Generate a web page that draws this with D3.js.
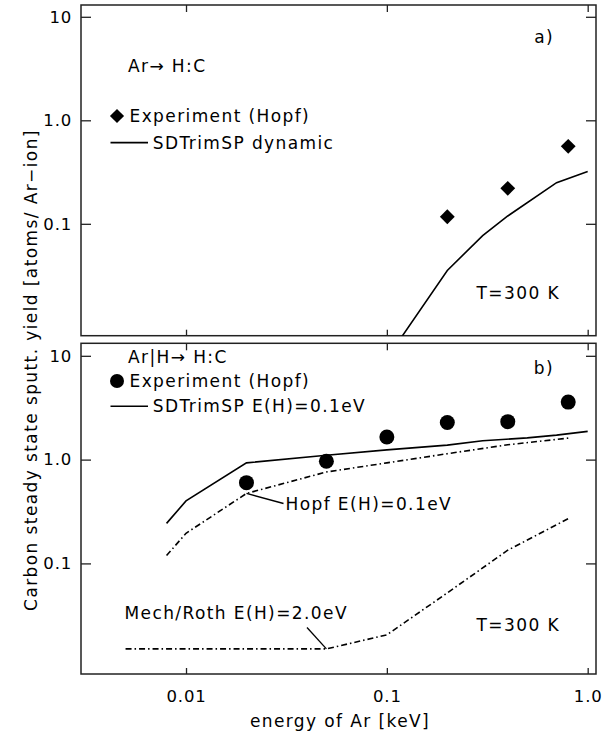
<!DOCTYPE html>
<html>
<head>
<meta charset="utf-8">
<script src="https://cdn.jsdelivr.net/npm/d3@7"></script>
<style>
  html, body { margin: 0; padding: 0; background: #fff; }
  svg text { font-family: "DejaVu Sans", sans-serif; fill: #000; }
</style>
</head>
<body>
<svg id="chart" width="604" height="740"></svg>
<script>
// ---------- data ----------
const xTickValues = [0.01, 0.1, 1];
const xTickLabels = ["0.01", "0.1", "1.0"];
const yTickValues = [0.1, 1, 10];
const yTickLabels = ["0.1", "1.0", "10"];

// panel a) Ar -> H:C
const expA_E = [0.2, 0.4, 0.8];
const expA_Y = [0.117, 0.22, 0.56];
const simA_E = [0.1, 0.2, 0.3, 0.4, 0.7, 1.0];
const simA_Y = [0.005, 0.0354, 0.077, 0.119, 0.25, 0.32];

// panel b) Ar|H -> H:C
const expB_E = [0.02, 0.05, 0.1, 0.2, 0.4, 0.8];
const expB_Y = [0.60, 0.965, 1.65, 2.28, 2.32, 3.58];
const simB_E = [0.008, 0.01, 0.02, 0.05, 0.1, 0.2, 0.3, 0.5, 0.7, 1.0];
const simB_Y = [0.243, 0.40, 0.93, 1.10, 1.24, 1.38, 1.52, 1.62, 1.72, 1.87];
const hopfB_E = [0.008, 0.01, 0.02, 0.05, 0.1, 0.2, 0.4, 0.8];
const hopfB_Y = [0.119, 0.195, 0.472, 0.76, 0.93, 1.14, 1.39, 1.61];
const mechB_E = [0.005, 0.05, 0.1, 0.2, 0.4, 0.8];
const mechB_Y = [0.015, 0.015, 0.0205, 0.052, 0.134, 0.27];

const zip = (a, b) => a.map((v, i) => [v, b[i]]);

// ---------- layout ----------
const svg = d3.select("#chart");
const L = 81, R = 596;
const x = d3.scaleLog().domain([0.003, 1.1]).range([L, R]);
const panels = [
  { y: d3.scaleLog().domain([0.0083, 13]).range([335.7, 5]), top: 5, bottom: 335.7 },
  { y: d3.scaleLog().domain([0.0086, 13.2]).range([674, 343.3]), top: 343.3, bottom: 674 }
];
const fmtX = v => xTickLabels[xTickValues.indexOf(v)];
const fmtY = v => yTickLabels[yTickValues.indexOf(v)];
const axisColor = "#222";

function drawFrame(p, showX) {
  const g = svg.append("g");
  const styleAxis = sel => {
    sel.select(".domain").remove();
    sel.selectAll(".tick line").attr("stroke", axisColor).attr("stroke-width", 1.3);
    sel.selectAll(".tick text").style("font-size", "16.5px").style("letter-spacing", "0.8px").attr("fill", "#000");
  };
  g.append("g").attr("transform", `translate(${L},0)`)
    .call(d3.axisLeft(p.y).tickValues(yTickValues).tickFormat(fmtY).tickSizeInner(-10).tickSizeOuter(0).tickPadding(9))
    .call(styleAxis);
  g.append("g").attr("transform", `translate(${R},0)`)
    .call(d3.axisRight(p.y).tickValues(yTickValues).tickFormat("").tickSizeInner(-10).tickSizeOuter(0))
    .call(styleAxis);
  g.append("g").attr("transform", `translate(0,${p.top})`)
    .call(d3.axisTop(x).tickValues(xTickValues).tickFormat("").tickSizeInner(-7).tickSizeOuter(0))
    .call(styleAxis);
  g.append("g").attr("transform", `translate(0,${p.bottom})`)
    .call(d3.axisBottom(x).tickValues(xTickValues).tickFormat(showX ? fmtX : "").tickSizeInner(-6).tickSizeOuter(0).tickPadding(16.5))
    .call(styleAxis);
  g.append("rect").attr("x", L).attr("y", p.top).attr("width", R - L).attr("height", p.bottom - p.top)
    .attr("fill", "none").attr("stroke", axisColor).attr("stroke-width", 1.5);
}

function clipFor(p, id) {
  svg.append("clipPath").attr("id", id).append("rect")
    .attr("x", L).attr("y", p.top).attr("width", R - L).attr("height", p.bottom - p.top);
  return `url(#${id})`;
}

function drawLine(p, data, clip, dash) {
  const line = d3.line().x(d => x(d[0])).y(d => p.y(d[1]));
  svg.append("path").datum(data).attr("d", line).attr("fill", "none")
    .attr("stroke", "#000").attr("stroke-width", 1.6)
    .attr("stroke-dasharray", dash || null).attr("clip-path", clip);
}

const dashDot = "6,3,1.5,3";
const textStyle = sel => sel.style("font-size", "17px").style("letter-spacing", "1.4px");

// ---------- panel a ----------
{
  const p = panels[0];
  drawFrame(p, false);
  const clip = clipFor(p, "clipA");
  drawLine(p, zip(simA_E, simA_Y), clip);
  svg.append("g").selectAll("path").data(zip(expA_E, expA_Y)).join("path")
    .attr("d", d3.symbol(d3.symbolSquare, 110)())
    .attr("transform", d => `translate(${x(d[0])},${p.y(d[1])}) rotate(45)`)
    .attr("fill", "#000");
  // legend
  svg.append("path").attr("d", d3.symbol(d3.symbolSquare, 100)())
    .attr("transform", "translate(117,116) rotate(45)").attr("fill", "#000");
  svg.append("text").attr("x", 129.5).attr("y", 116).attr("dy", "0.36em").text("Experiment (Hopf)").call(textStyle);
  svg.append("line").attr("x1", 110.5).attr("x2", 148).attr("y1", 142.6).attr("y2", 142.6).attr("stroke", "#000").attr("stroke-width", 1.6);
  svg.append("text").attr("x", 152.8).attr("y", 142.6).attr("dy", "0.36em").text("SDTrimSP dynamic").call(textStyle);
  svg.append("text").attr("x", 128).attr("y", 66).attr("dy", "0.36em").text("Ar→ H:C").call(textStyle);
  svg.append("text").attr("x", 554).attr("y", 37).attr("dy", "0.36em").attr("text-anchor", "end").text("a)").call(textStyle);
  svg.append("text").attr("x", 560).attr("y", 293).attr("dy", "0.36em").attr("text-anchor", "end").text("T=300 K").call(textStyle);
}

// ---------- panel b ----------
{
  const p = panels[1];
  drawFrame(p, true);
  const clip = clipFor(p, "clipB");
  drawLine(p, zip(simB_E, simB_Y), clip);
  drawLine(p, zip(hopfB_E, hopfB_Y), clip, dashDot);
  drawLine(p, zip(mechB_E, mechB_Y), clip, dashDot);
  svg.append("g").selectAll("circle").data(zip(expB_E, expB_Y)).join("circle")
    .attr("cx", d => x(d[0])).attr("cy", d => p.y(d[1])).attr("r", 7.5).attr("fill", "#000");
  // legend
  svg.append("text").attr("x", 128).attr("y", 356.5).attr("dy", "0.36em").text("Ar|H→ H:C").call(textStyle);
  svg.append("circle").attr("cx", 117).attr("cy", 381).attr("r", 7).attr("fill", "#000");
  svg.append("text").attr("x", 129.5).attr("y", 381).attr("dy", "0.36em").text("Experiment (Hopf)").call(textStyle);
  svg.append("line").attr("x1", 110.5).attr("x2", 148).attr("y1", 406.3).attr("y2", 406.3).attr("stroke", "#000").attr("stroke-width", 1.6);
  svg.append("text").attr("x", 152.8).attr("y", 406.3).attr("dy", "0.36em").text("SDTrimSP E(H)=0.1eV").call(textStyle);
  svg.append("text").attr("x", 554).attr("y", 368).attr("dy", "0.36em").attr("text-anchor", "end").text("b)").call(textStyle);
  svg.append("text").attr("x", 560).attr("y", 625).attr("dy", "0.36em").attr("text-anchor", "end").text("T=300 K").call(textStyle);
  // annotations
  const hx = x(hopfB_E[2]), hy = p.y(hopfB_Y[2]);
  svg.append("line").attr("x1", hx).attr("y1", hy).attr("x2", 283.5).attr("y2", 503.5).attr("stroke", "#000").attr("stroke-width", 1.3);
  svg.append("text").attr("x", 285.5).attr("y", 504).attr("dy", "0.36em").text("Hopf E(H)=0.1eV").call(textStyle);
  const mx = x(mechB_E[1]), my = p.y(mechB_Y[1]);
  svg.append("line").attr("x1", mx).attr("y1", my).attr("x2", 307).attr("y2", 627.5).attr("stroke", "#000").attr("stroke-width", 1.3);
  svg.append("text").attr("x", 124.5).attr("y", 612.5).attr("dy", "0.36em").text("Mech/Roth E(H)=2.0eV").call(textStyle);
}

// ---------- axis titles ----------
svg.append("text").attr("transform", "translate(31,370) rotate(-90)").attr("text-anchor", "middle").attr("dy", "0.36em")
  .text("Carbon steady state sputt. yield [atoms/ Ar−ion]").call(textStyle);
svg.append("text").attr("x", 340).attr("y", 721).attr("text-anchor", "middle").attr("dy", "0.36em")
  .text("energy of Ar [keV]").call(textStyle);
</script>
</body>
</html>
